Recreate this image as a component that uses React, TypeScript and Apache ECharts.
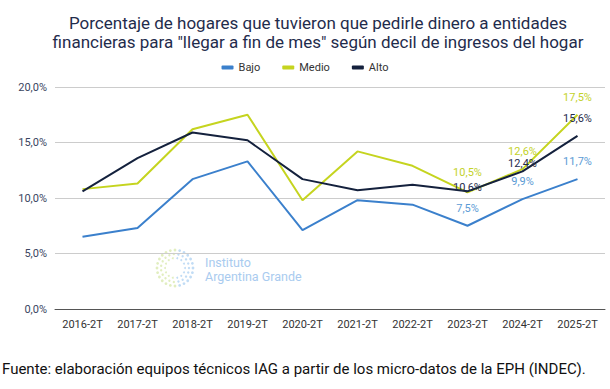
import React, { useEffect, useRef } from "react";
import * as echarts from "echarts";

const categories = ["2016-2T", "2017-2T", "2018-2T", "2019-2T", "2020-2T", "2021-2T", "2022-2T", "2023-2T", "2024-2T", "2025-2T"];
const bajo = [6.5, 7.3, 11.7, 13.3, 7.1, 9.8, 9.4, 7.5, 9.9, 11.7];
const medio = [10.8, 11.3, 16.2, 17.5, 9.8, 14.2, 12.9, 10.5, 12.6, 17.5];
const alto = [10.6, 13.6, 15.9, 15.2, 11.7, 10.7, 11.2, 10.6, 12.4, 15.6];
const yTicks = [0, 5, 10, 15, 20];
const labeledFrom = 7;

const fmt = (v: number) => v.toFixed(1).replace(".", ",") + "%";

function buildData(values: number[], color: string, distances: number[]) {
  return values.map((v, i) => {
    if (i < labeledFrom) return v;
    return {
      value: v,
      label: {
        show: true,
        position: "top",
        distance: distances[i - labeledFrom],
        color,
        fontSize: 11,
        fontFamily: "Roboto",
        formatter: (p: any) => fmt(p.value),
      },
    };
  });
}

export default function App() {
  const ref = useRef<HTMLDivElement>(null);
  useEffect(() => {
    document.body.style.margin = "0";
    const chart = echarts.init(ref.current!, null, { renderer: "svg" });
    const dots: any[] = [];
    const cx = 175, cy = 268;
    for (let ring = 0; ring < 3; ring++) {
      const r = 10 + ring * 4;
      const n = 14 + ring * 5;
      for (let k = 0; k < n; k++) {
        const a = (k / n) * Math.PI * 2;
        const t = (Math.cos(a) + 1) / 2;
        const col = t > 0.5 ? "#8ec0ec" : "#c9e08a";
        dots.push({
          type: "circle",
          shape: { cx: cx + r * Math.cos(a), cy: cy + r * Math.sin(a), r: 1 + ring * 0.2 },
          style: { fill: col, opacity: 0.55 },
          silent: true,
        });
      }
    }
    const common = {
      type: "line",
      symbol: "circle",
      symbolSize: 0.1,
      showSymbol: true,
      lineStyle: { width: 2 },
      labelLayout: { hideOverlap: false },
    };
    chart.setOption({
      animation: false,
      textStyle: { fontFamily: "Roboto" },
      title: {
        text: 'Porcentaje de hogares que tuvieron que pedirle dinero a entidades\nfinancieras para "llegar a fin de mes" según decil de ingresos del hogar',
        left: 313,
        textAlign: "center",
        top: 8,
        textStyle: { fontFamily: "Roboto", fontSize: 17, fontWeight: "normal", color: "#1f2c4c", lineHeight: 19 },
      },
      legend: {
        top: 57,
        left: "center",
        itemWidth: 12,
        itemHeight: 4,
        itemGap: 22,
        icon: "roundRect",
        textStyle: { fontFamily: "Roboto", fontSize: 11, color: "#333" },
        data: ["Bajo", "Medio", "Alto"],
      },
      grid: { left: 55, right: 5, top: 87, bottom: 80, containLabel: false },
      xAxis: {
        type: "category",
        data: categories,
        boundaryGap: true,
        axisLine: { lineStyle: { color: "#555", width: 1 } },
        axisTick: { show: false },
        axisLabel: { color: "#333", fontSize: 11, margin: 10, fontFamily: "Roboto" },
      },
      yAxis: {
        type: "value",
        min: yTicks[0],
        max: yTicks[yTicks.length - 1],
        interval: 5,
        axisLabel: { color: "#3a4560", fontSize: 11, margin: 8, fontFamily: "Roboto", formatter: (v: number) => fmt(v) },
        splitLine: { lineStyle: { color: "#cccccc", width: 1 } },
        axisLine: { show: false },
        axisTick: { show: false },
      },
      series: [
        { ...common, name: "Bajo", data: buildData(bajo, "#5b9bd5", [12, 12, 12]), color: "#3b80cc", z: 3 },
        { ...common, name: "Medio", data: buildData(medio, "#c3d22a", [14, 12, 12]), color: "#c5d41f", z: 4 },
        { ...common, name: "Alto", data: buildData(alto, "#1f2c4c", [-2, 2, 12]), color: "#14213d", z: 5 },
      ],
      graphic: [
        ...dots,
        {
          type: "text",
          left: 205,
          top: 255,
          silent: true,
          style: { text: "Instituto\nArgentina Grande", fill: "#a9cbef", fontSize: 12.5, fontFamily: "Roboto", lineHeight: 14 },
        },
        {
          type: "text",
          left: 2,
          top: 361,
          style: { text: "Fuente: elaboración equipos técnicos IAG a partir de los micro-datos de la EPH (INDEC).", fill: "#111", fontSize: 15, fontFamily: "Roboto" },
        },
      ],
    });
    return () => chart.dispose();
  }, []);
  return <div ref={ref} style={{ width: 610, height: 389 }} />;
}
